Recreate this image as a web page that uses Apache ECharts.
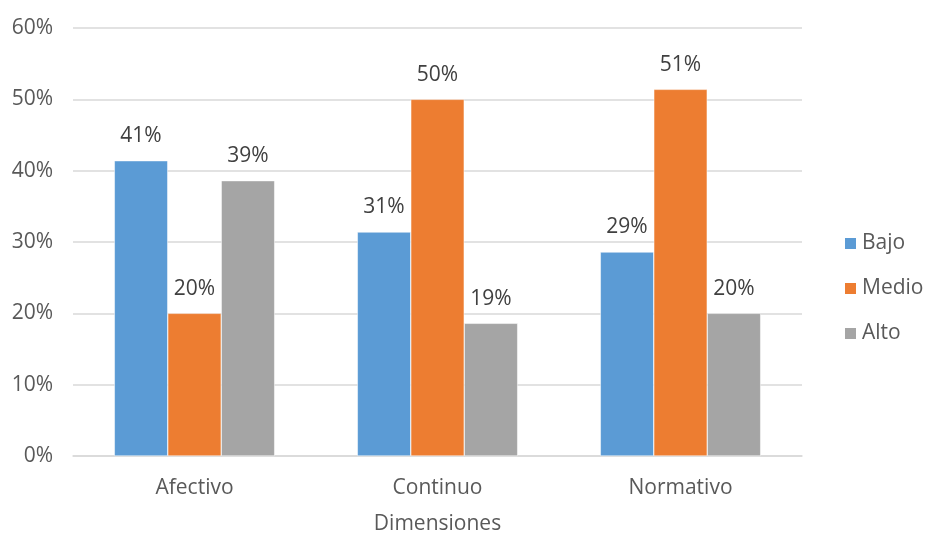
<!DOCTYPE html>
<html>
<head>
<meta charset="utf-8">
<script src="https://cdn.jsdelivr.net/npm/echarts@6/dist/echarts.min.js"></script>
<style>
	html, body { margin: 0; padding: 0; background: #fff; }
	#chart { width: 928px; height: 536px; }
</style>
</head>
<body>
<div id="chart"></div>
<script>
const categories = ["Afectivo", "Continuo", "Normativo"];
const seriesNames = ["Bajo", "Medio", "Alto"];
const bajo = [41.4, 31.4, 28.6];
const medio = [20.0, 50.0, 51.4];
const alto = [38.6, 18.6, 20.0];
const yTicks = [0, 10, 20, 30, 40, 50, 60];

const colors = ["#5B9BD5", "#ED7D31", "#A5A5A5"];
const textColor = "#595959";
const font = "Open Sans";
const fontSize = 21;

const chart = echarts.init(document.getElementById("chart"));

const makeSeries = (name, data) => ({
	name,
	type: "bar",
	data,
	barGap: 0,
	barCategoryGap: "34%",
	itemStyle: {
		borderColor: "#fff",
		borderWidth: 0.5
	},
	label: {
		show: true,
		position: "top",
		distance: 14,
		color: "#404040",
		fontFamily: font,
		fontSize,
		formatter: (p) => Math.round(p.value) + "%"
	}
});

const option = {
	color: colors,
	animation: false,
	textStyle: { fontFamily: font },
	grid: {
		left: 73,
		right: 126,
		top: 28,
		bottom: 80,
		containLabel: false,
		outerBoundsMode: "none"
	},
	legend: {
		orient: "vertical",
		left: 843,
		top: 233,
		padding: 0,
		itemWidth: 13,
		itemHeight: 13,
		itemGap: 24,
		icon: "rect",
		textStyle: {
			color: textColor,
			fontFamily: font,
			fontSize
		},
		data: seriesNames
	},
	xAxis: {
		type: "category",
		data: categories,
		name: "Dimensiones",
		nameLocation: "middle",
		nameGap: 58,
		nameTextStyle: {
			color: textColor,
			fontFamily: font,
			fontSize
		},
		axisLine: { lineStyle: { color: "#D9D9D9", width: 1.5 } },
		axisTick: { show: false },
		axisLabel: {
			color: textColor,
			fontFamily: font,
			fontSize,
			margin: 22
		}
	},
	yAxis: {
		type: "value",
		min: yTicks[0],
		max: yTicks[yTicks.length - 1],
		interval: 10,
		axisLine: { show: false },
		axisTick: { show: false },
		splitLine: { lineStyle: { color: "#D9D9D9", width: 1.5 } },
		axisLabel: {
			color: textColor,
			fontFamily: font,
			fontSize,
			margin: 20,
			formatter: "{value}%"
		}
	},
	series: [
		makeSeries(seriesNames[0], bajo),
		makeSeries(seriesNames[1], medio),
		makeSeries(seriesNames[2], alto)
	]
};

chart.setOption(option);
</script>
</body>
</html>
